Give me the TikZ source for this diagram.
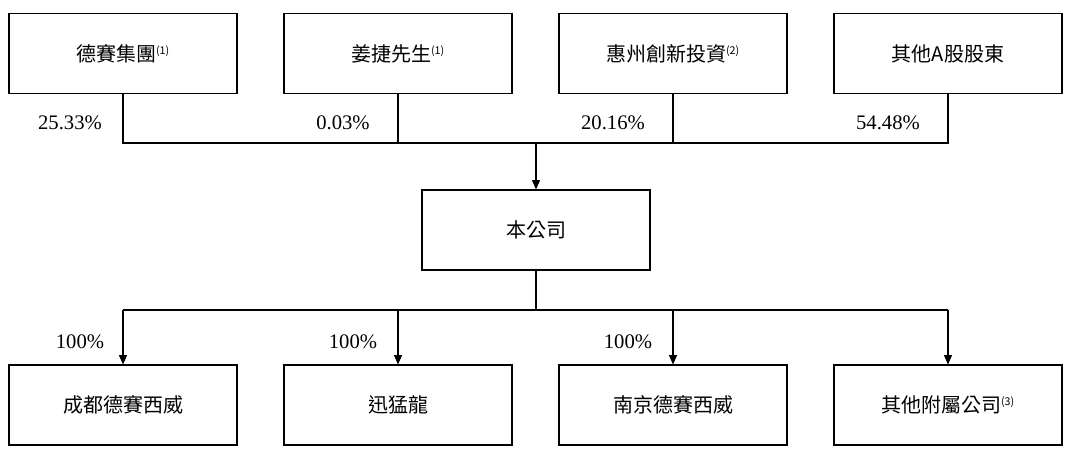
\documentclass[tikz,border=0pt]{standalone}
\usepackage{fontspec}
\setmainfont{Liberation Serif}
\newfontfamily\cjk{Noto Sans CJK TC}
\usetikzlibrary{arrows.meta}
\begin{document}
\begin{tikzpicture}[x=0.75pt,y=-0.75pt,
 box/.style={draw,line width=0.8pt,minimum width=171pt,minimum height=60pt,inner sep=0,font=\cjk\fontsize{15}{17}\selectfont},
 pct/.style={font=\fontsize{15.5}{17}\selectfont,anchor=base},
 ln/.style={line width=0.8pt},
 arr/.style={ln,-{Triangle[length=7pt,width=6pt]}}]
\useasboundingbox (0,0) rectangle (1080,459);
\newcommand{\mysup}[1]{\textsuperscript{\fontsize{8}{9}\selectfont(#1)}}
\node[box] (a) at (123,53.5) {德賽集團\mysup{1}};
\node[box] (b) at (398,53.5) {姜捷先生\mysup{1}};
\node[box] (c) at (673,53.5) {惠州創新投資\mysup{2}};
\node[box] (d) at (948,53.5) {其他A股股東};
\node[box] (m) at (536,230) {本公司};
\node[box] (e) at (123,405) {成都德賽西威};
\node[box] (f) at (398,405) {迅猛龍};
\node[box] (g) at (673,405) {南京德賽西威};
\node[box] (h) at (948,405) {其他附屬公司\mysup{3}};
\coordinate (j1) at (536,143);
\coordinate (j2) at (536,310);
\draw[ln] (a.south) |- (j1) (d.south) |- (j1);
\draw[ln] (b.south) -- (b.south |- j1) (c.south) -- (c.south |- j1);
\draw[arr] (j1) -- (m.north);
\draw[ln] (m.south) -- (j2);
\draw[ln] (e.north |- j2) -- (h.north |- j2);
\foreach \n in {e,f,g,h} \draw[arr] (\n.north |- j2) -- (\n.north);
\node[pct] at (70,130) {25.33\%};
\node[pct] at (343,130) {0.03\%};
\node[pct] at (613,130) {20.16\%};
\node[pct] at (888,130) {54.48\%};
\node[pct] at (80,348) {100\%};
\node[pct] at (353,348) {100\%};
\node[pct] at (628,348) {100\%};
\end{tikzpicture}
\end{document}
